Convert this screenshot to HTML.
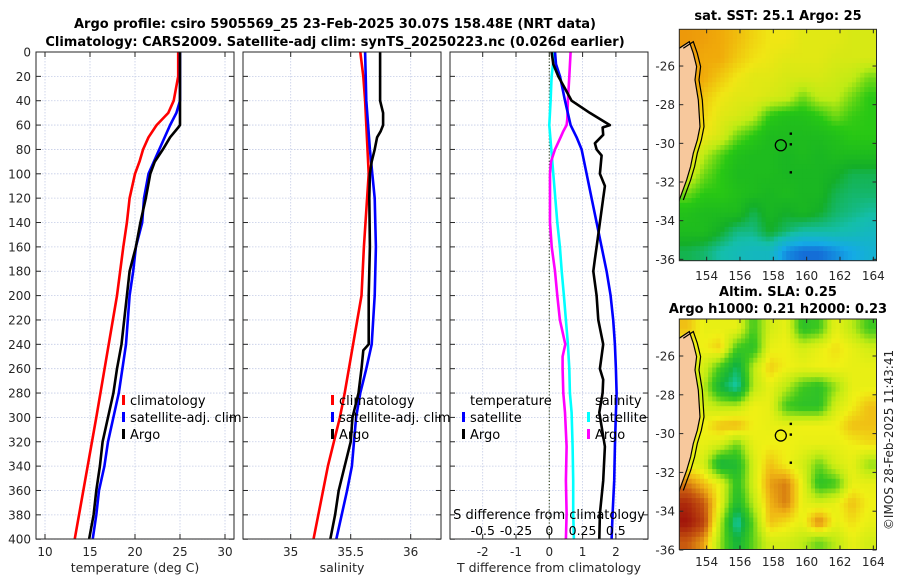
<!DOCTYPE html>
<html><head><meta charset="utf-8">
<style>
html,body{margin:0;padding:0;background:#fff;}
svg{display:block;font-family:"DejaVu Sans","Liberation Sans",sans-serif;}
</style></head>
<body>
<svg id="chart" width="900" height="580" viewBox="0 0 900 580" xmlns="http://www.w3.org/2000/svg">
<defs>
<clipPath id="c1"><rect x="36" y="52" width="198" height="487"/></clipPath>
<clipPath id="c2"><rect x="243" y="52" width="198" height="487"/></clipPath>
<clipPath id="c3"><rect x="450" y="52" width="198" height="487"/></clipPath>
<clipPath id="m1"><rect x="679.3" y="29.3" width="197.4" height="231.4"/></clipPath>
<clipPath id="m2"><rect x="679.3" y="319" width="197" height="230.5"/></clipPath>
</defs>
<text x="335" y="28" text-anchor="middle" font-size="13" font-weight="bold" fill="#000">Argo profile: csiro 5905569_25 23-Feb-2025 30.07S 158.48E (NRT data)</text>
<text x="335" y="46" text-anchor="middle" font-size="13" font-weight="bold" fill="#000">Climatology: CARS2009. Satellite-adj clim: synTS_20250223.nc (0.026d earlier)</text>
<text x="778" y="20" text-anchor="middle" font-size="13" font-weight="bold">sat. SST: 25.1 Argo: 25</text>
<text x="778" y="296" text-anchor="middle" font-size="13" font-weight="bold">Altim. SLA: 0.25</text>
<text x="778" y="313" text-anchor="middle" font-size="13" font-weight="bold">Argo h1000: 0.21 h2000: 0.23</text>
<text x="0" y="0" transform="translate(893,440) rotate(-90)" text-anchor="middle" font-size="12" fill="#262626">©IMOS 28-Feb-2025 11:43:41</text>
<g id="g"></g>
</svg>
<script>
// ---------- profile data ----------
const tempClimDepth=[0,20,40,50,60,70,80,90,100,120,140,160,200,300,400];
const tempClim=[24.8,24.8,24.3,23.7,22.4,21.5,20.9,20.5,20.0,19.4,19.1,18.7,18.0,15.7,13.3];
const tempSatDepth=[0,40,50,60,80,100,120,140,160,180,200,240,260,280,300,320,340,360,380,400];
const tempSat=[25.0,25.0,24.6,23.9,22.7,21.5,21.0,20.8,20.1,19.8,19.4,19.0,18.6,18.2,17.6,17.0,16.6,16.0,15.7,15.3];
const tempArgoDepth=[0,20,40,60,62,70,80,90,100,120,140,160,180,200,240,260,280,300,320,340,360,380,400];
const tempArgo=[25.0,25.0,25.0,25.0,24.8,23.9,23.1,22.2,21.7,21.2,20.6,20.1,19.4,19.1,18.5,18.0,17.6,17.0,16.4,16.1,15.7,15.4,14.9];
const salClimDepth=[0,20,40,60,80,100,160,200,240,280,300,340,400];
const salClim=[35.58,35.605,35.62,35.63,35.64,35.65,35.61,35.59,35.52,35.45,35.41,35.31,35.19];
const salSatDepth=[0,40,80,120,160,200,240,260,280,300,340,360,380,400];
const salSat=[35.62,35.63,35.66,35.70,35.71,35.70,35.675,35.63,35.58,35.545,35.51,35.47,35.425,35.38];
const salArgoDepth=[0,40,50,60,65,70,80,90,100,120,160,200,240,245,260,280,300,320,340,360,380,400];
const salArgo=[35.745,35.745,35.77,35.77,35.75,35.72,35.70,35.675,35.66,35.655,35.66,35.65,35.65,35.605,35.59,35.565,35.515,35.50,35.45,35.40,35.37,35.33];
const tdArgoDepth=[0,10,20,30,40,50,60,62,68,75,80,85,100,110,120,140,160,170,180,200,220,240,260,269,280,296,324,352,379,400];
const tdArgo=[0.07,0.12,0.27,0.47,0.67,1.22,1.82,1.6,1.62,1.37,1.42,1.57,1.52,1.67,1.62,1.52,1.42,1.37,1.32,1.42,1.47,1.62,1.52,1.62,1.6,1.5,1.67,1.62,1.52,1.5];
const tdSatDepth=[0,10,20,40,60,70,80,100,120,140,160,180,200,220,240,260,280,296,324,352,379,400];
const tdSat=[0.17,0.2,0.32,0.47,0.64,0.82,0.97,1.12,1.27,1.42,1.57,1.72,1.84,1.92,1.97,2.0,2.02,2.0,1.97,1.95,1.9,1.87];
const sdSatDepth=[0,20,40,60,80,100,120,140,160,180,200,220,240,260,280,296,324,352,379,400];
const sdSat=[0.038,0.017,0.01,0.0,0.015,0.03,0.045,0.06,0.08,0.093,0.11,0.125,0.14,0.15,0.155,0.168,0.175,0.18,0.18,0.185];
const sdArgoDepth=[0,20,40,55,60,65,70,80,90,100,120,140,160,180,200,220,240,250,260,280,296,324,352,379,400];
const sdArgo=[0.16,0.15,0.14,0.135,0.13,0.105,0.085,0.043,0.013,0.005,0.005,0.005,0.018,0.043,0.06,0.08,0.12,0.1,0.1,0.105,0.118,0.13,0.125,0.13,0.125];
const depthTicks=[0,20,40,60,80,100,120,140,160,180,200,220,240,260,280,300,320,340,360,380,400];
const tempTicks=[10,15,20,25,30];
const salTicks=[35,35.5,36];
const tdTicks=[-2,-1,0,1,2];
const sdTicks=[-0.5,-0.25,0,0.25,0.5];
const sdTickLabels=["-0.5","-0.25","0","0.25","0.5"];
// ---------- map data (values 0..1, rows north->south, cols west->east) ----------
const sstGrid=[
[.9,.88,.85,.82,.78,.75,.75,.72,.72,.72,.7,.7],
[.9,.85,.85,.8,.76,.74,.72,.72,.72,.7,.7,.7],
[.88,.85,.8,.75,.72,.72,.7,.7,.7,.68,.66,.6],
[.88,.8,.75,.72,.72,.7,.68,.6,.66,.66,.6,.55],
[.85,.78,.72,.7,.66,.55,.52,.52,.55,.6,.56,.55],
[.82,.75,.7,.6,.55,.5,.5,.5,.5,.52,.55,.55],
[.78,.65,.58,.52,.5,.5,.48,.5,.48,.5,.5,.5],
[.7,.6,.55,.5,.5,.5,.48,.48,.48,.46,.42,.42],
[.6,.55,.55,.52,.5,.48,.5,.48,.48,.42,.4,.4],
[.52,.5,.5,.5,.42,.48,.45,.48,.45,.4,.38,.36],
[.5,.5,.45,.38,.38,.45,.4,.35,.35,.35,.33,.3],
[.42,.4,.35,.32,.3,.3,.15,.1,.1,.15,.2,.25]];
const slaGrid=[
[.7,.6,.6,.6,.35,.55,.6,.3,.35,.6,.5,.35],
[.6,.62,.68,.35,.3,.6,.62,.55,.6,.65,.6,.55],
[.6,.55,.35,.15,.5,.68,.62,.6,.62,.62,.6,.6],
[.6,.5,.2,.05,.5,.6,.5,.35,.3,.45,.6,.6],
[.65,.55,.5,.5,.62,.6,.35,.3,.3,.55,.62,.7],
[.65,.62,.7,.72,.62,.6,.6,.62,.62,.62,.7,.7],
[.6,.6,.55,.4,.6,.62,.62,.6,.6,.6,.62,.65],
[.6,.55,.2,.25,.55,.7,.62,.55,.4,.55,.6,.45],
[.8,.7,.6,.3,.55,.75,.8,.6,.3,.35,.6,.6],
[.95,.85,.6,.25,.5,.72,.8,.6,.55,.6,.7,.62],
[1,.9,.5,.05,.4,.7,.65,.6,.8,.6,.65,.6],
[.85,.75,.45,.2,.4,.55,.55,.5,.4,.5,.6,.55]];
const coastLon=[152.36,152.96,153.2,153.4,153.3,153.5,153.6,153.44,153.2,153.04,152.8,152.36];
const coastLat=[-25.08,-24.74,-25.34,-26.03,-26.72,-27.76,-29.14,-29.83,-30.51,-31.2,-31.9,-32.93];
const lonTicks=[154,156,158,160,162,164];
const latTicks=[-26,-28,-30,-32,-34,-36];
const argoLon=158.45, argoLat=-30.1;
const dotLon=[159.05,159.05,159.05], dotLat=[-29.5,-30.05,-31.5];

const NS="http://www.w3.org/2000/svg";
const root=document.getElementById('g');
function el(tag,attrs,parent){const e=document.createElementNS(NS,tag);for(const k in attrs)e.setAttribute(k,attrs[k]);(parent||root).appendChild(e);return e;}
function txt(s,x,y,anchor,size,parent){const t=el('text',{x:x,y:y,'text-anchor':anchor,'font-size':size,fill:'#262626'},parent);t.textContent=s;return t;}

const yD=d=>52+d*1.218;
const xT=t=>45+(t-10)*9;
const xS=s=>290.7+(s-35)*120;
const xTd=v=>549.3+v*33.3;
const xSd=v=>549.3+v*133;
const TOP=52,BOT=539;

function panel(name,x0,x1,ticks,xf,labels,axisLabel,clip){
  const g=el('g',{});
  
  
  el('rect',{x:x0,y:TOP,width:x1-x0,height:BOT-TOP,fill:'#fff'},g);
  depthTicks.forEach(d=>{
    const l=el('line',{x1:x0,x2:x1,y1:yD(d),y2:yD(d),stroke:'#c4cce6','stroke-width':0.8,'stroke-dasharray':'1.5,1.5'},g);
    
    
    el('line',{x1:x0,x2:x0+5,y1:yD(d),y2:yD(d),stroke:'#262626'},g);
    el('line',{x1:x1-5,x2:x1,y1:yD(d),y2:yD(d),stroke:'#262626'},g);
  });
  ticks.forEach((v,i)=>{
    const x=xf(v);
    el('line',{x1:x,x2:x,y1:TOP,y2:BOT,stroke:'#c4cce6','stroke-width':0.8,'stroke-dasharray':'1.5,1.5'},g);
    el('line',{x1:x,x2:x,y1:BOT-5,y2:BOT,stroke:'#262626'},g);
    el('line',{x1:x,x2:x,y1:TOP,y2:TOP+5,stroke:'#262626'},g);
    if(labels){const t=txt(labels[i],x,BOT+17,'middle',12,g);
      
      }
  });
  const a=txt(axisLabel,(x0+x1)/2,BOT+33,'middle',12.5,g);
  
  
  return g;
}
function series(name,depths,vals,xf,color,clip,g){
  let d='';
  depths.forEach((dep,i)=>{d+=(i?'L':'M')+xf(vals[i]).toFixed(1)+','+yD(dep).toFixed(1);});
  const p=el('path',{d:d,fill:'none',stroke:color,'stroke-width':2.6,'stroke-linejoin':'round','clip-path':'url(#'+clip+')'},g);
  
  
}
function frame(x0,x1,g){el('rect',{x:x0,y:TOP,width:x1-x0,height:BOT-TOP,fill:'none',stroke:'#262626','stroke-width':1},g);}
function legendItem(name,color,label,x,y,g){
  const b=el('rect',{x:x,y:y-10,width:3,height:10,fill:color},g);
  
  
  const t=txt(label,x+8,y,'start',13,g);t.setAttribute('fill','#000');
  
  
}

// Panel 1 temperature
const g1=panel('temperature-panel',36,234,tempTicks,xT,tempTicks.map(String),'temperature (deg C)','c1');
series('temp-climatology-line',tempClimDepth,tempClim,xT,'#ff0000','c1',g1);
series('temp-satellite-line',tempSatDepth,tempSat,xT,'#0000ff','c1',g1);
series('temp-argo-line',tempArgoDepth,tempArgo,xT,'#000000','c1',g1);
frame(36,234,g1);
depthTicks.forEach(d=>{const t=txt(String(d),31,yD(d)+4.5,'end',12,g1);
  
  });
legendItem('legend-climatology','#ff0000','climatology',122,405,g1);
legendItem('legend-satellite-adj','#0000ff','satellite-adj. clim',122,422,g1);
legendItem('legend-argo','#000000','Argo',122,439,g1);

// Panel 2 salinity
const g2=panel('salinity-panel',243,441,salTicks,xS,['35','35.5','36'],'salinity','c2');
series('sal-climatology-line',salClimDepth,salClim,xS,'#ff0000','c2',g2);
series('sal-satellite-line',salSatDepth,salSat,xS,'#0000ff','c2',g2);
series('sal-argo-line',salArgoDepth,salArgo,xS,'#000000','c2',g2);
frame(243,441,g2);
legendItem('legend-climatology-2','#ff0000','climatology',331,405,g2);
legendItem('legend-satellite-adj-2','#0000ff','satellite-adj. clim',331,422,g2);
legendItem('legend-argo-2','#000000','Argo',331,439,g2);

// Panel 3 differences
const g3=panel('difference-panel',450,648,tdTicks,xTd,tdTicks.map(String),'T difference from climatology','c3');
el('line',{x1:xTd(0),x2:xTd(0),y1:TOP,y2:BOT,stroke:'#3a4a20','stroke-width':1.2,'stroke-dasharray':'1.2,2'},g3);
series('sdiff-satellite-line',sdSatDepth,sdSat,xSd,'#00ffff','c3',g3);
series('sdiff-argo-line',sdArgoDepth,sdArgo,xSd,'#ff00ff','c3',g3);
series('tdiff-satellite-line',tdSatDepth,tdSat,xTd,'#0000ff','c3',g3);
series('tdiff-argo-line',tdArgoDepth,tdArgo,xTd,'#000000','c3',g3);
frame(450,648,g3);
{const t=txt('temperature',470,405,'start',13,g3);t.setAttribute('fill','#000');
 
 
 const s=txt('salinity',595,405,'start',13,g3);s.setAttribute('fill','#000');
 
 }
legendItem('legend-t-satellite','#0000ff','satellite',462,422,g3);
legendItem('legend-t-argo','#000000','Argo',462,439,g3);
legendItem('legend-s-satellite','#00ffff','satellite',587,422,g3);
legendItem('legend-s-argo','#ff00ff','Argo',587,439,g3);
{const t=txt('S difference from climatology',549,519,'middle',13,g3);t.setAttribute('fill','#000');
 
 }
sdTicks.forEach((v,i)=>{const t=txt(sdTickLabels[i],xSd(v),535,'middle',12.5,g3);t.setAttribute('fill','#000');
 
 });

// ---------- maps ----------
const LON0=152.36,LON1=164.2,LAT0=-24.1,LAT1=-36.07;
const mx=lon=>679.3+(lon-LON0)*16.67;
function lerpColor(stops,v){
  v=Math.max(0,Math.min(1,v));
  for(let i=1;i<stops.length;i++){if(v<=stops[i][0]){const a=stops[i-1],b=stops[i];const f=(v-a[0])/(b[0]-a[0]||1);
    const c=[0,1,2].map(k=>Math.round(a[1][k]+(b[1][k]-a[1][k])*f));return 'rgb('+c.join(',')+')';}}
  const l=stops[stops.length-1][1];return 'rgb('+l.join(',')+')';
}
function sample(grid,r,c){
  const R=grid.length,C=grid[0].length;
  r=Math.max(0,Math.min(R-1,r));c=Math.max(0,Math.min(C-1,c));
  const r0=Math.floor(r),c0=Math.floor(c),r1=Math.min(R-1,r0+1),c1=Math.min(C-1,c0+1);
  const fr=r-r0,fc=c-c0;
  return grid[r0][c0]*(1-fr)*(1-fc)+grid[r0][c1]*(1-fr)*fc+grid[r1][c0]*fr*(1-fc)+grid[r1][c1]*fr*fc;
}
const sstStops=[[0,[20,50,200]],[0.2,[20,170,230]],[0.35,[20,190,170]],[0.45,[20,175,40]],[0.55,[40,200,20]],[0.65,[190,235,20]],[0.75,[240,230,20]],[0.85,[240,170,10]],[1,[230,120,10]]];
const slaStops=[[0,[20,210,220]],[0.2,[20,180,60]],[0.35,[60,200,30]],[0.5,[190,235,20]],[0.62,[240,240,20]],[0.72,[240,180,20]],[0.85,[200,90,15]],[1,[160,20,10]]];
function map(name,grid,stops,clip,my,y0,y1,lonLabelY){
  const g=el('g',{});
  
  
  const cg=el('g',{'clip-path':'url(#'+clip+')'},g);
  const rows=grid.length,cols=grid[0].length,SUB=4;
  const dLon=(LON1-LON0)/(cols*SUB),dLat=(LAT0-LAT1)/(rows*SUB);
  for(let r=0;r<rows*SUB;r++)for(let c=0;c<cols*SUB;c++){
    const v=sample(grid,(r+0.5)/SUB-0.5,(c+0.5)/SUB-0.5);
    const xa=mx(LON0+c*dLon),xb=mx(LON0+(c+1)*dLon),ya=my(LAT0-r*dLat),yb=my(LAT0-(r+1)*dLat);
    const cell=el('rect',{x:xa.toFixed(1),y:ya.toFixed(1),width:(xb-xa+0.6).toFixed(1),height:(yb-ya+0.6).toFixed(1),fill:lerpColor(stops,v)},cg);
    
    
  }
  // land
  let p='M'+mx(LON0-1)+','+my(LAT0+1);
  coastLon.forEach((lo,i)=>{p+='L'+mx(lo).toFixed(1)+','+my(coastLat[i]).toFixed(1);});
  p+='L'+mx(LON0-1)+','+my(LAT1-1)+'Z';
  const land=el('path',{d:p,fill:'#f7c89c',stroke:'#000','stroke-width':1.2},cg);
  
  
  let p2='';
  coastLon.forEach((lo,i)=>{p2+=(i?'L':'M')+(mx(lo)+4).toFixed(1)+','+my(coastLat[i]).toFixed(1);});
  el('path',{d:p2,fill:'none',stroke:'#000','stroke-width':1.2},cg);
  const ring=el('circle',{cx:mx(argoLon),cy:my(argoLat),r:5.5,fill:'none',stroke:'#000','stroke-width':1.3},cg);
  
  
  dotLon.forEach((lo,i)=>{el('rect',{x:mx(lo)-1.2,y:my(dotLat[i])-1.2,width:2.4,height:2.4,fill:'#000'},cg);});
  el('rect',{x:679.3,y:y0,width:197.2,height:y1-y0,fill:'none',stroke:'#262626'},g);
  lonTicks.forEach(lo=>{const x=mx(lo);
    el('line',{x1:x,x2:x,y1:y1-4,y2:y1,stroke:'#262626'},g);
    el('line',{x1:x,x2:x,y1:y0,y2:y0+4,stroke:'#262626'},g);
    const t=txt(String(lo),x,lonLabelY,'middle',12,g);
    
    });
  latTicks.forEach(la=>{const y=my(la);
    el('line',{x1:679.3,x2:683.3,y1:y,y2:y,stroke:'#262626'},g);
    el('line',{x1:872.5,x2:876.5,y1:y,y2:y,stroke:'#262626'},g);
    const t=txt(String(la),675,y+4.5,'end',12,g);
    
    });
}
map('sst-map',sstGrid,sstStops,'m1',lat=>29.3+(LAT0-lat)*19.33,29.3,260.7,280);
map('sla-map',slaGrid,slaStops,'m2',lat=>356+(-26-lat)*19.4,319,549.5,566);
</script>
</body></html>
